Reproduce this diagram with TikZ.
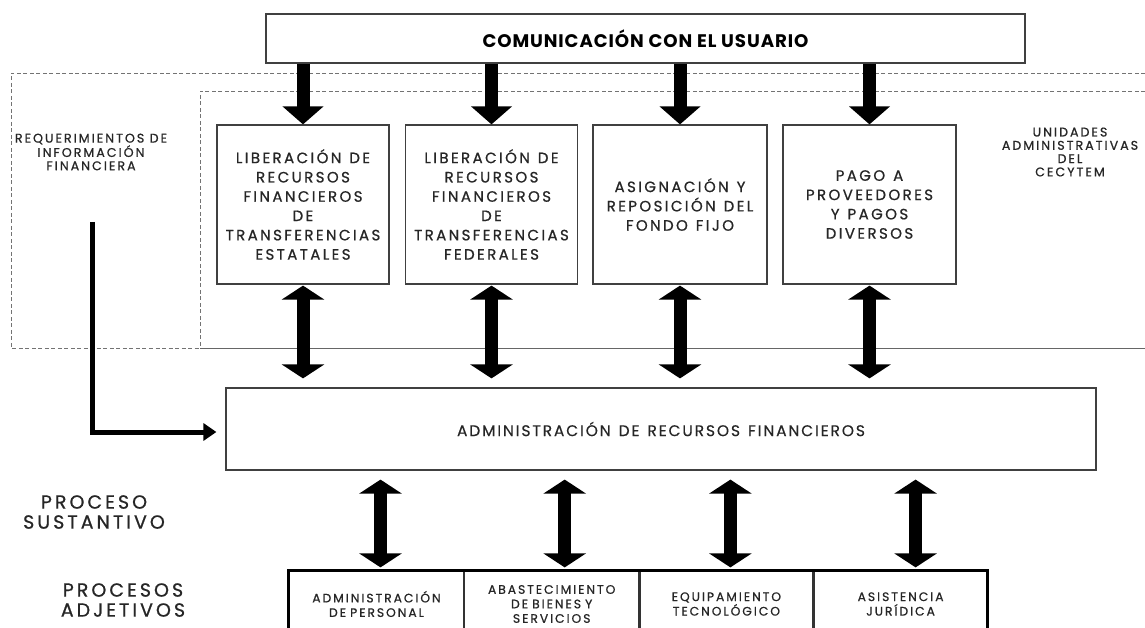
\documentclass[tikz,border=0pt]{standalone}
\usepackage{fontspec}
\setmainfont{Poppins}
\newfontfamily\widefont[LetterSpace=16, FakeBold=0.8]{Poppins}
\newfontfamily\midfont[LetterSpace=12, FakeBold=0.4]{Poppins}
\newfontfamily\titlefont[LetterSpace=5]{Poppins}
\newcommand{\gap}{\hspace{8pt}}
\usetikzlibrary{positioning, arrows.meta, calc}

\begin{document}
\begin{tikzpicture}[
        x=1pt, y=-1pt,
        procbox/.style={draw=black!75, line width=1.2pt, align=center, text width=168pt, minimum width=172pt, minimum height=159pt, inner sep=0pt, font=\widefont\fontsize{15}{19.3}\selectfont, text=black!85},
        cellbox/.style={draw=black!80, line width=1.2pt, align=center, text width=170pt, minimum width=174pt, minimum height=66pt, inner sep=0pt, font=\widefont\fontsize{12.3}{14.5}\selectfont, text=black!85},
        sidelabel/.style={align=center, inner sep=0pt, font=\widefont\fontsize{12.6}{13.3}\selectfont, text=black!85},
        biglabel/.style={align=center, inner sep=0pt, font=\widefont\fontsize{19}{20}\selectfont, text=black!85},
        downarrow/.style={line width=13pt, -{Triangle[length=18pt, width=40pt]}},
        dblarrow/.style={line width=13pt, {Triangle[length=14pt, width=42pt]}-{Triangle[length=14pt, width=42pt]}},
        elbow/.style={line width=5pt, -{Triangle[length=13pt, width=17pt]}},
        zone/.style={draw=black!55, line width=0.9pt, dash pattern=on 4pt off 2.5pt}
    ]
    \useasboundingbox (0,0) rectangle (1145,628);

    % Areas
    \draw[zone] (1145,73) -- (11,73) -- (11,348) -- (200,348);
    \draw[zone] (1145,91) -- (200,91) -- (200,348);
    \draw[draw=black!60, line width=1pt] (200,348) -- (1145,348);

    % Nodes
    \node[draw=black!75, line width=1.2pt, minimum width=759pt, minimum height=49pt, inner sep=0pt,
          font=\titlefont\bfseries\fontsize{18.2}{19}\selectfont] (comm) at (645.5,38.5) {COMUNICACIÓN CON EL USUARIO};

    \node[procbox] (lib1) at (303,204.5) {LIBERACIÓN\gap DE\\RECURSOS\\FINANCIEROS\\DE\\TRANSFERENCIAS\\ESTATALES};
    \node[procbox] (lib2) at (491.5,204.5) {LIBERACIÓN\gap DE\\RECURSOS\\FINANCIEROS\\DE\\TRANSFERENCIAS\\FEDERALES};
    \node[procbox, minimum width=174pt] (fondo) at (680,204.5) {ASIGNACIÓN\gap Y\\REPOSICIÓN\gap DEL\\FONDO\gap FIJO};
    \node[procbox, minimum width=173pt] (pago) at (869.5,204.5) {PAGO\gap A\\PROVEEDORES\\Y\gap PAGOS\\DIVERSOS};

    \node[sidelabel] (req) at (91,152) {REQUERIMIENTOS DE\\INFORMACIÓN\\FINANCIERA};
    \node[sidelabel] (unid) at (1070,152) {UNIDADES\\ADMINISTRATIVAS\\DEL\\CECYTEM};

    \node[draw=black!75, line width=1.2pt, minimum width=870pt, minimum height=82pt, inner sep=0pt,
          font=\midfont\fontsize{15.5}{17}\selectfont, text=black!85] (admin) at (661,429) {ADMINISTRACIÓN\gap DE\gap RECURSOS\gap FINANCIEROS};

    \node[biglabel] (sust) at (94,512) {PROCESO\\SUSTANTIVO};
    \node[biglabel] (adj) at (123,600) {PROCESOS\\ADJETIVOS};

    \node[cellbox] (pers) at (376.5,604) {ADMINISTRACIÓN\\DE PERSONAL};
    \node[cellbox, right=0pt of pers] (abast) {ABASTECIMIENTO\\DE BIENES Y\\SERVICIOS};
    \node[cellbox, minimum width=173pt, text width=168pt, right=0pt of abast] (equipo) {EQUIPAMIENTO\\TECNOLÓGICO};
    \node[cellbox, minimum width=173pt, text width=168pt, right=0pt of equipo] (jur) {ASISTENCIA\\JURÍDICA};
    \draw[line width=3pt] (pers.south west) -- (pers.north west) -- (jur.north east) -- (jur.south east);

    \coordinate (reqstart) at (92,222);

    % Arrows
    \foreach \n in {lib1, lib2, fondo, pago} {
        \draw[downarrow] (\n |- comm.south) -- (\n.north);
        \draw[dblarrow, shorten <=1pt, shorten >=9pt] (\n.south) -- (\n.south |- admin.north);
    }
    \foreach \n/\dx in {pers/4, abast/13, equipo/4, jur/15} {
        \draw[dblarrow, shorten <=9pt, shorten >=3pt] ([xshift=\dx pt]\n.north |- admin.south) -- ([xshift=\dx pt]\n.north);
    }
    \draw[elbow] (reqstart) |- ([xshift=-9pt, yshift=-3pt]admin.west);
\end{tikzpicture}
\end{document}
